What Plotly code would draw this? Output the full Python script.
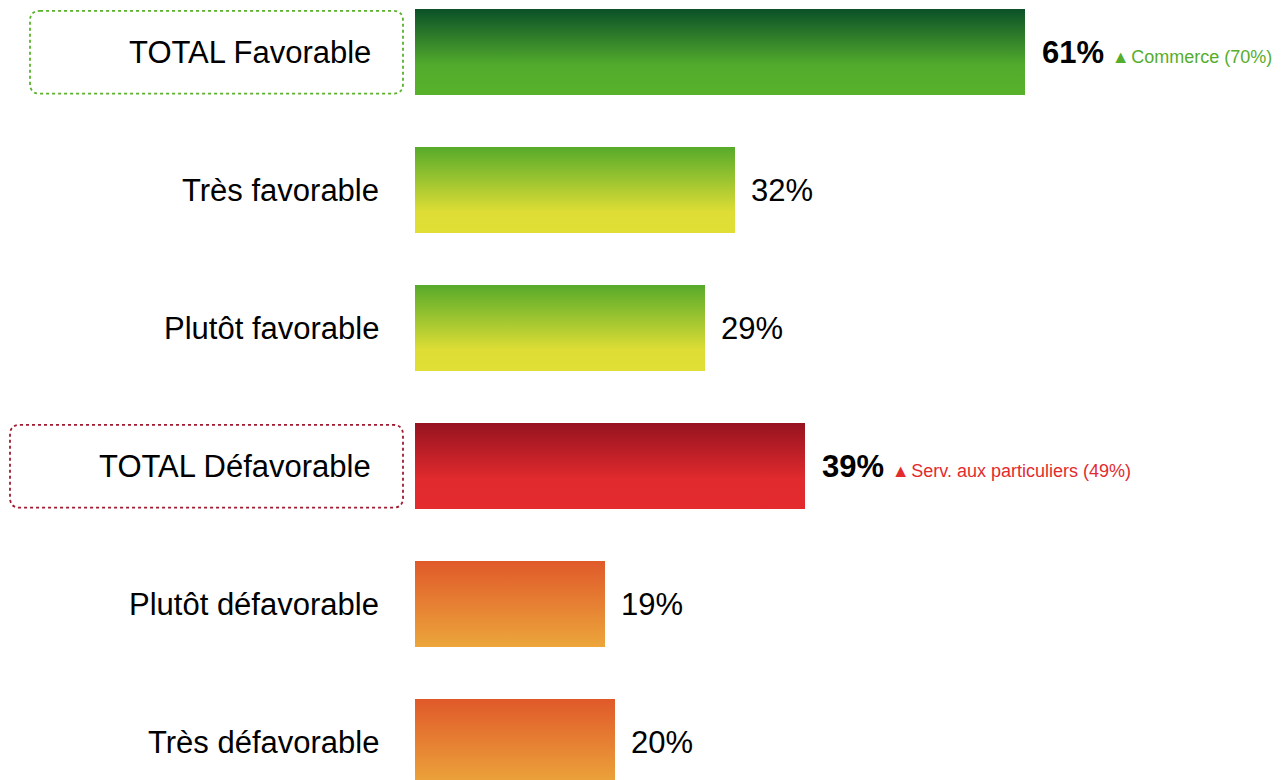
import plotly.graph_objects as go

labels = ["TOTAL Favorable", "Très favorable", "Plutôt favorable",
          "TOTAL Défavorable", "Plutôt défavorable", "Très défavorable"]
values = [61, 32, 29, 39, 19, 20]
is_total = [True, False, False, True, False, False]
notes = ["Commerce (70%)", None, None, "Serv. aux particuliers (49%)", None, None]

# top -> bottom gradient for each bar
gradients = [
    [[0, "#0b5028"], [0.65, "#52ab2c"], [1, "#59b22b"]],
    [[0, "#57aa2b"], [0.75, "#dddd35"], [1, "#dfdf36"]],
    [[0, "#57aa2b"], [0.75, "#dddd35"], [1, "#dfdf36"]],
    [[0, "#961320"], [0.65, "#e02a2d"], [1, "#e32b2e"]],
    [[0, "#e0592a"], [1, "#eca63b"]],
    [[0, "#e0592a"], [1, "#eca63b"]],
]
note_colors = ["#55ad2c", None, None, "#e32b2e", None, None]
box_colors = ["#5ab12c", None, None, "#a01a30", None, None]

FONT = "Liberation Sans, Arial, sans-serif"
h = 0.312

# page body has an 8px margin, so the figure is 8px smaller
W, H = 1273, 772
LEFT = 407
ROW = 138

fig = go.Figure()
for i, (v, grad) in enumerate(zip(values, gradients)):
    fig.add_trace(go.Scatter(
        x=[0, v, v, 0, 0],
        y=[i - h, i - h, i + h, i + h, i - h],
        mode="lines",
        line=dict(width=0),
        fill="toself",
        fillgradient=dict(type="vertical", colorscale=grad,
                          start=i - h, stop=i + h),
        hoverinfo="skip",
        showlegend=False,
    ))

    if is_total[i]:
        txt = ("<b>%d%%</b><span style='font-size:28px'> </span>"
               "<span style='font-size:18px;color:%s'>▲"
               "<span style='font-size:6px'> </span>%s</span>"
               % (v, note_colors[i], notes[i]))
        fig.add_annotation(x=v, y=i, xref="x", yref="y", text=txt,
                           showarrow=False, xanchor="left", xshift=15,
                           font=dict(family=FONT, size=31, color="black"))
        fig.add_annotation(x=0, y=i, xref="paper", yref="y", text=labels[i],
                           showarrow=False, xanchor="right", xshift=-42,
                           font=dict(family=FONT, size=31, color="black"))
    else:
        fig.add_annotation(x=v, y=i, xref="x", yref="y", text="%d%%" % v,
                           showarrow=False, xanchor="left", xshift=14,
                           font=dict(family=FONT, size=31, color="black"))
        fig.add_annotation(x=0, y=i, xref="paper", yref="y", text=labels[i],
                           showarrow=False, xanchor="right", xshift=-34,
                           font=dict(family=FONT, size=31, color="black"))

# dotted rounded boxes round the totals
plot_w = W - LEFT
box_left = {0: 22, 3: 2}
for i, left in box_left.items():
    x0 = (left - LEFT) / plot_w
    x1 = (395 - LEFT) / plot_w
    rx = 10 / plot_w
    ry = 10 / ROW
    y0 = i - 0.298
    y1 = i + 0.302
    path = ("M %f,%f L %f,%f Q %f,%f %f,%f L %f,%f Q %f,%f %f,%f "
            "L %f,%f Q %f,%f %f,%f L %f,%f Q %f,%f %f,%f Z" % (
                x0 + rx, y0, x1 - rx, y0, x1, y0, x1, y0 + ry,
                x1, y1 - ry, x1, y1, x1 - rx, y1,
                x0 + rx, y1, x0, y1, x0, y1 - ry,
                x0, y0 + ry, x0, y0, x0 + rx, y0))
    fig.add_shape(type="path", path=path, xref="paper", yref="y",
                  line=dict(color=box_colors[i], width=1.8, dash="dot"))

top = 44 / ROW
fig.update_layout(
    width=W, height=H,
    margin=dict(l=LEFT, r=0, t=0, b=0),
    paper_bgcolor="white", plot_bgcolor="white",
    xaxis=dict(range=[0, plot_w / 10], visible=False, fixedrange=True),
    yaxis=dict(range=[H / ROW - top, -top], visible=False, fixedrange=True),
)

fig.write_html("out.html")
